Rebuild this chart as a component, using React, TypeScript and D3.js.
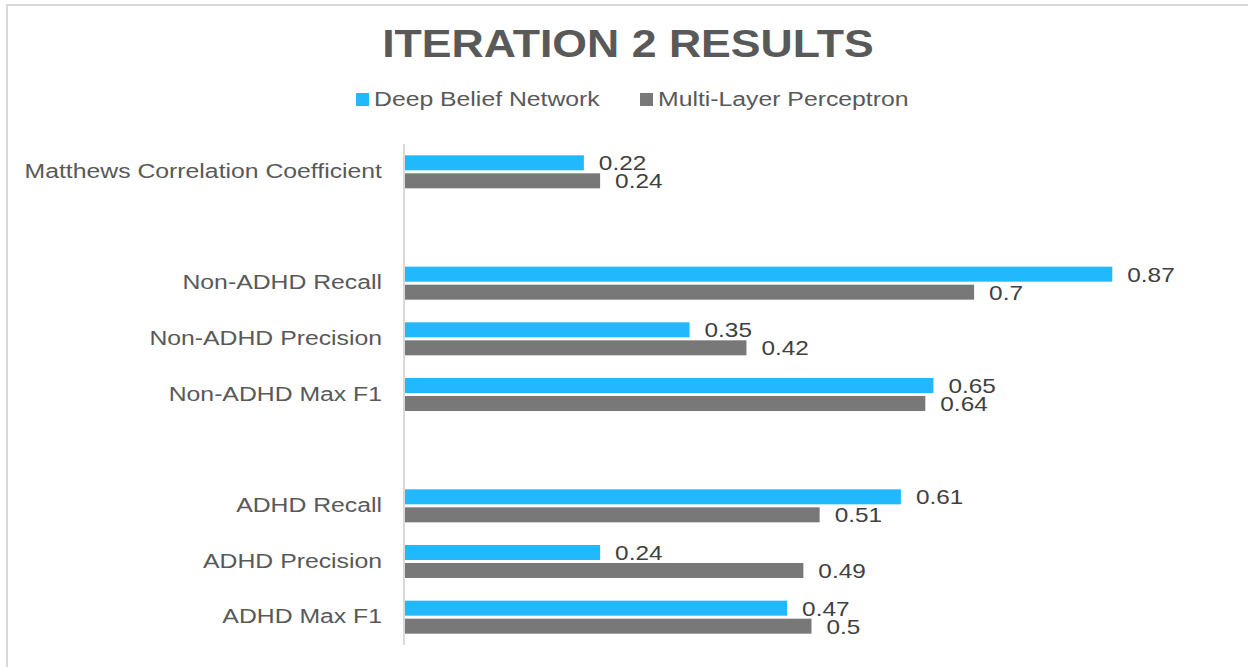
import React from "react";
import * as d3 from "d3";

// Chart data: one slot per row, blank slots separate metric groups
const slotIds = ["mcc", "gap1", "nonRecall", "nonPrecision", "nonF1", "gap2", "adhdRecall", "adhdPrecision", "adhdF1"];
const slotLabels = [
  "Matthews Correlation Coefficient",
  "",
  "Non-ADHD Recall",
  "Non-ADHD Precision",
  "Non-ADHD Max F1",
  "",
  "ADHD Recall",
  "ADHD Precision",
  "ADHD Max F1",
];
const dbnValues: (number | null)[] = [0.22, null, 0.87, 0.35, 0.65, null, 0.61, 0.24, 0.47];
const mlpValues: (number | null)[] = [0.24, null, 0.7, 0.42, 0.64, null, 0.51, 0.49, 0.5];
const seriesNames = ["Deep Belief Network", "Multi-Layer Perceptron"];
const seriesColors = ["#22B8FD", "#787878"];

const W = 1248;
const H = 667;
const FONT = "'Liberation Sans', Arial, sans-serif";
const SX = 1.18; // horizontal stretch of the regular text

export default function App() {
  const y = d3.scaleBand<string>().domain(slotIds).range([144, 645]);
  const x = d3.scaleLinear().domain([0, 1]).range([405, 1218]);
  const barH = 15;
  const gap = 3;
  const series = [dbnValues, mlpValues];

  return (
    <svg
      width={W}
      height={H}
      style={{ position: "absolute", left: 0, top: 0, background: "#fff" }}
      fontFamily={FONT}
    >
      <rect x={7} y={5} width={1250} height={670} fill="#fff" stroke="#D9D9D9" strokeWidth={2} />

      {/* title */}
      <text
        transform={`translate(628,56.5) scale(1.13,1)`}
        textAnchor="middle"
        fontSize={39.5}
        fontWeight="bold"
        fill="#595959"
      >
        ITERATION 2 RESULTS
      </text>

      {/* legend */}
      {[356, 640].map((lx, i) => (
        <g key={seriesNames[i]}>
          <rect x={lx} y={93} width={13} height={13} fill={seriesColors[i]} />
          <text transform={`translate(${lx + 18},106) scale(${SX},1)`} fontSize={21} fill="#595959">
            {seriesNames[i]}
          </text>
        </g>
      ))}

      {/* category axis */}
      <line x1={404} x2={404} y1={144} y2={645} stroke="#D9D9D9" strokeWidth={2} />
      {slotIds.map((id, i) =>
        slotLabels[i] ? (
          <text
            key={id}
            transform={`translate(382,${(y(id) ?? 0) + y.bandwidth() / 2 - 1}) scale(${SX},1)`}
            textAnchor="end"
            dominantBaseline="central"
            fontSize={21}
            fill="#595959"
          >
            {slotLabels[i]}
          </text>
        ) : null
      )}

      {/* bars and value labels */}
      {series.map((vals, si) =>
        slotIds.map((id, i) => {
          const v = vals[i];
          if (v == null) return null;
          const c = (y(id) ?? 0) + y.bandwidth() / 2;
          const top = si === 0 ? c - gap / 2 - barH : c + gap / 2;
          return (
            <g key={`${si}-${id}`}>
              <rect x={x(0)} y={top} width={x(v) - x(0)} height={barH} fill={seriesColors[si]} />
              <text
                transform={`translate(${x(v) + 15},${top + barH / 2}) scale(1.16,1)`}
                dominantBaseline="central"
                fontSize={21}
                fill="#404040"
              >
                {String(v)}
              </text>
            </g>
          );
        })
      )}
    </svg>
  );
}
